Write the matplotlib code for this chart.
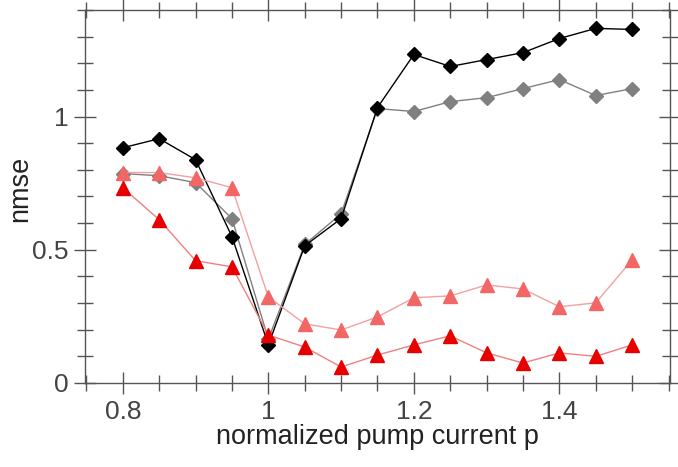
import matplotlib
matplotlib.use("Agg")
import matplotlib.pyplot as plt
from matplotlib.ticker import MultipleLocator, FixedLocator

p = [0.8, 0.85, 0.9, 0.95, 1.0, 1.05, 1.1, 1.15, 1.2, 1.25, 1.3, 1.35, 1.4, 1.45, 1.5]
black_diamond = [0.883, 0.917, 0.838, 0.549, 0.143, 0.515, 0.617, 1.034, 1.233, 1.188, 1.214, 1.240, 1.293, 1.331, 1.327]
gray_diamond = [0.786, 0.778, 0.752, 0.617, 0.165, 0.52, 0.635, 1.03, 1.019, 1.056, 1.071, 1.105, 1.139, 1.079, 1.105]
light_tri = [0.79, 0.79, 0.77, 0.733, 0.323, 0.222, 0.199, 0.248, 0.320, 0.327, 0.368, 0.353, 0.286, 0.301, 0.462]
red_tri = [0.733, 0.613, 0.459, 0.436, 0.18, 0.135, 0.06, 0.105, 0.143, 0.177, 0.113, 0.075, 0.113, 0.10, 0.143]

xticks = [0.8, 1.0, 1.2, 1.4]
xticklabels = ["0.8", "1", "1.2", "1.4"]
yticks = [0, 0.5, 1]
yticklabels = ["0", "0.5", "1"]

plt.rcParams['font.family'] = ['Liberation Sans', 'DejaVu Sans']

fig = plt.figure(figsize=(6.78, 4.67), dpi=100)
ax = fig.add_axes([85/678, 1-383/467, (670-85)/678, (383-10)/467])

ax.plot(p, gray_diamond, color='#808080', lw=1.0, marker='D', ms=7.5, mfc='#808080', mec='#808080', zorder=2)
ax.plot(p, black_diamond, color='#000000', lw=1.0, marker='D', ms=7.5, mfc='black', mec='black', zorder=3)
ax.plot(p, light_tri, color='#f4a0a0', lw=1.0, marker='^', ms=10, mfc='#f26666', mec='#f26666', zorder=4)
ax.plot(p, red_tri, color='#f08080', lw=1.0, marker='^', ms=10, mfc='#e60000', mec='#e60000', zorder=5)

ax.set_xlim(0.748, 1.552)
ax.set_ylim(0, 1.40)

ax.xaxis.set_major_locator(FixedLocator(xticks))
ax.set_xticklabels(xticklabels)
ax.xaxis.set_minor_locator(MultipleLocator(0.05))
ax.yaxis.set_major_locator(FixedLocator(yticks))
ax.set_yticklabels(yticklabels)
ax.yaxis.set_minor_locator(MultipleLocator(0.1))

axcol = '#555555'
for s in ax.spines.values():
    s.set_color(axcol)
    s.set_linewidth(1.0)
ax.tick_params(which='major', direction='inout', length=16, width=1.0, color=axcol,
               top=True, right=True, labelsize=19, labelcolor='#444444', pad=4)
ax.tick_params(which='minor', direction='inout', length=11, width=1.0, color=axcol,
               top=True, right=True)

ax.set_xlabel('normalized pump current p', fontsize=19.5, color='#222222')
ax.xaxis.set_label_coords(0.5, -0.11)
ax.set_ylabel('nmse', fontsize=19.5, color='#222222')
ax.yaxis.set_label_coords(-0.088, 0.52)

fig.savefig('out.png', dpi=100)
